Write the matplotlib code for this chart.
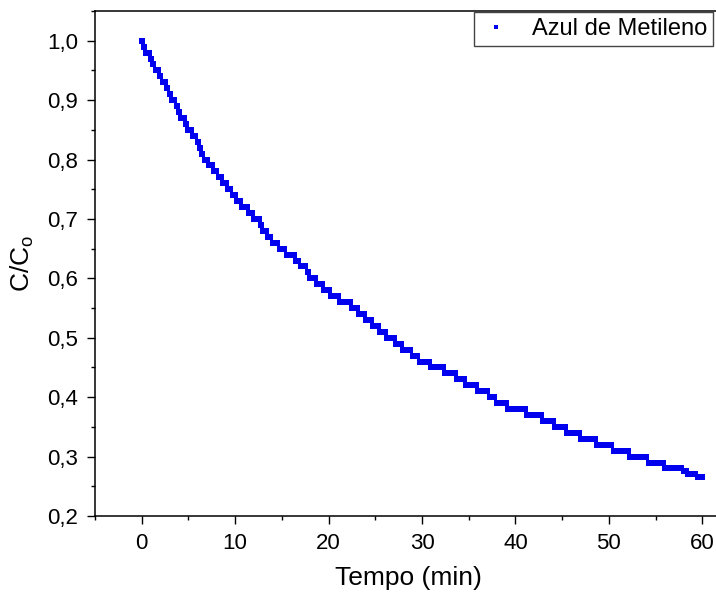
import matplotlib
matplotlib.use("Agg")
import matplotlib.pyplot as plt
from matplotlib.ticker import MultipleLocator, FuncFormatter

plt.rcParams["font.family"] = ["Liberation Sans", "DejaVu Sans"]

# readings every 0.25 min, C/Co
tempo = [i * 0.25 for i in range(241)]
c_c0 = [
    1.00, 0.99, 0.98, 0.98, 0.97, 0.96, 0.95, 0.95,
    0.94, 0.93, 0.93, 0.92, 0.91, 0.90, 0.90, 0.89,
    0.88, 0.87, 0.87, 0.86, 0.85, 0.85, 0.84, 0.84,
    0.83, 0.82, 0.81, 0.80, 0.80, 0.79, 0.79, 0.78,
    0.78, 0.77, 0.77, 0.76, 0.76, 0.75, 0.75, 0.74,
    0.74, 0.73, 0.73, 0.72, 0.72, 0.72, 0.71, 0.71,
    0.70, 0.70, 0.70, 0.69, 0.68, 0.68, 0.67, 0.67,
    0.66, 0.66, 0.66, 0.65, 0.65, 0.65, 0.64, 0.64,
    0.64, 0.64, 0.63, 0.63, 0.62, 0.62, 0.62, 0.61,
    0.60, 0.60, 0.60, 0.59, 0.59, 0.59, 0.58, 0.58,
    0.58, 0.57, 0.57, 0.57, 0.57, 0.56, 0.56, 0.56,
    0.56, 0.56, 0.55, 0.55, 0.55, 0.54, 0.54, 0.54,
    0.53, 0.53, 0.53, 0.52, 0.52, 0.52, 0.51, 0.51,
    0.51, 0.50, 0.50, 0.50, 0.50, 0.49, 0.49, 0.49,
    0.48, 0.48, 0.48, 0.48, 0.47, 0.47, 0.47, 0.46,
    0.46, 0.46, 0.46, 0.46, 0.45, 0.45, 0.45, 0.45,
    0.45, 0.45, 0.44, 0.44, 0.44, 0.44, 0.44, 0.43,
    0.43, 0.43, 0.43, 0.42, 0.42, 0.42, 0.42, 0.42,
    0.41, 0.41, 0.41, 0.41, 0.41, 0.40, 0.40, 0.40,
    0.39, 0.39, 0.39, 0.39, 0.39, 0.38, 0.38, 0.38,
    0.38, 0.38, 0.38, 0.38, 0.38, 0.37, 0.37, 0.37,
    0.37, 0.37, 0.37, 0.37, 0.36, 0.36, 0.36, 0.36,
    0.36, 0.35, 0.35, 0.35, 0.35, 0.35, 0.34, 0.34,
    0.34, 0.34, 0.34, 0.34, 0.33, 0.33, 0.33, 0.33,
    0.33, 0.33, 0.33, 0.32, 0.32, 0.32, 0.32, 0.32,
    0.32, 0.32, 0.31, 0.31, 0.31, 0.31, 0.31, 0.31,
    0.31, 0.30, 0.30, 0.30, 0.30, 0.30, 0.30, 0.30,
    0.30, 0.29, 0.29, 0.29, 0.29, 0.29, 0.29, 0.29,
    0.28, 0.28, 0.28, 0.28, 0.28, 0.28, 0.28, 0.28,
    0.275, 0.275, 0.27, 0.27, 0.27, 0.27, 0.265, 0.265,
    0.265,
]

fig = plt.figure(figsize=(7.16, 5.94), dpi=100)
# the right spine falls just outside the picture, as in the original
ax = fig.add_axes([95 / 716, 78 / 594, 626 / 716, 505 / 594])

ax.plot(tempo, c_c0, linestyle="none", marker="s", markersize=3.8,
        color="#0000ee", markeredgewidth=0, label="Azul de Metileno")

ax.set_xlim(-5, 62)
ax.set_ylim(0.2, 1.05)
ax.xaxis.set_major_locator(MultipleLocator(10))
ax.xaxis.set_minor_locator(MultipleLocator(5))
ax.yaxis.set_major_locator(MultipleLocator(0.1))
ax.yaxis.set_minor_locator(MultipleLocator(0.05))
ax.yaxis.set_major_formatter(FuncFormatter(lambda v, p: f"{v:.1f}".replace(".", ",")))

ax.tick_params(which="major", direction="out", length=6, width=1.0, labelsize=16, pad=6)
ax.tick_params(which="minor", direction="out", length=3, width=1.0)
for s in ax.spines.values():
    s.set_linewidth(1.1)

ax.set_xlabel("Tempo (min)", fontsize=19, labelpad=9)
ax.set_ylabel(r"C/C$_\mathregular{o}$", fontsize=19, labelpad=8)

leg = ax.legend(loc="upper right", bbox_to_anchor=(713 / 716, 1 - 12 / 594),
                bbox_transform=fig.transFigure, fontsize=17, fancybox=False,
                edgecolor="#444444", framealpha=1, markerscale=0.8,
                handlelength=1.4, handletextpad=0.8, borderpad=0.25,
                borderaxespad=0)
leg.get_frame().set_linewidth(1.0)

fig.savefig("out.png", dpi=100)
